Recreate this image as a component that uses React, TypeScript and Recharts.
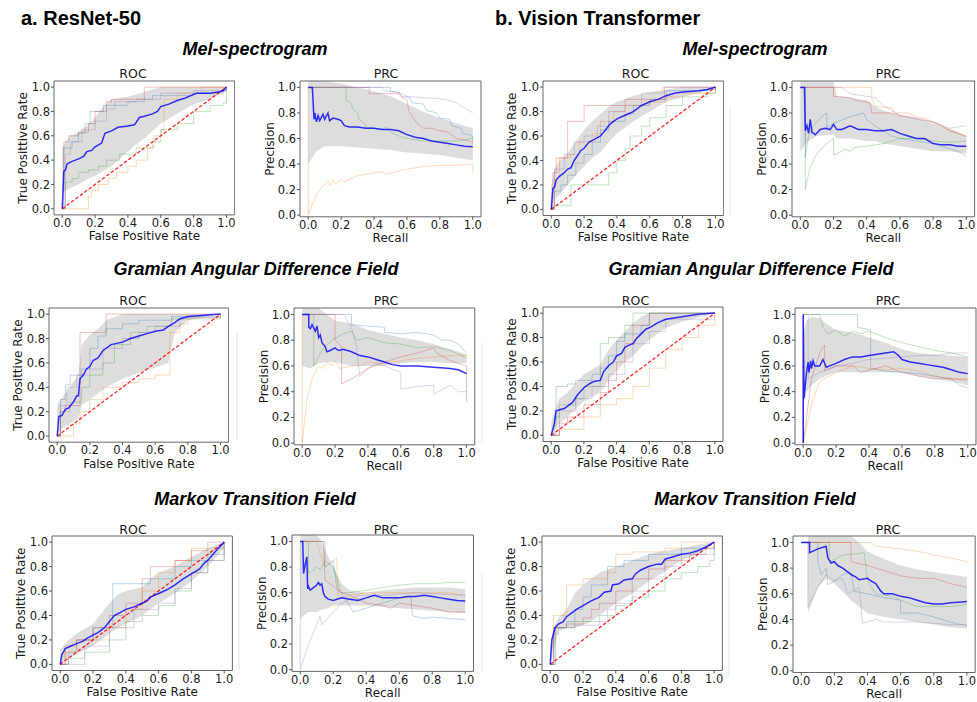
import React from 'react';
import { ComposedChart, Line, Area, XAxis, YAxis, ReferenceArea } from 'recharts';

type P = [number, number];
type B = [number, number, number];

// ---------------- shared ----------------
const axisTicks = [0, 0.2, 0.4, 0.6, 0.8, 1.0];
const foldColors = ['#1f77b4', '#ff7f0e', '#2ca02c', '#d62728', '#9467bd'];
const diagonal: P[] = [[0, 0], [1, 1]];
const sectionTitles = ['Mel-spectrogram', 'Gramian Angular Difference Field', 'Markov Transition Field'];
const modelTitles = ['a. ResNet-50', 'b. Vision Transformer'];

// ---------------- ResNet-50 / Mel-spectrogram ----------------
const resMelRocMean: P[] = [[0,0],[0.01,0.31],[0.02,0.32],[0.03,0.37],[0.06,0.39],[0.1,0.41],[0.13,0.43],[0.15,0.47],[0.18,0.48],[0.2,0.51],[0.24,0.54],[0.26,0.62],[0.3,0.64],[0.34,0.67],[0.4,0.68],[0.44,0.69],[0.47,0.75],[0.5,0.76],[0.55,0.78],[0.58,0.8],[0.6,0.84],[0.65,0.86],[0.7,0.89],[0.75,0.91],[0.8,0.94],[0.82,0.95],[0.9,0.95],[0.95,0.96],[0.98,0.97],[1,1]];
const resMelRocBand: B[] = [[0,0.13,0.5],[0.02,0.15,0.55],[0.05,0.17,0.6],[0.1,0.2,0.63],[0.15,0.24,0.68],[0.2,0.27,0.75],[0.25,0.31,0.84],[0.3,0.35,0.9],[0.35,0.41,0.91],[0.4,0.47,0.92],[0.45,0.53,0.94],[0.5,0.58,0.96],[0.55,0.64,0.98],[0.6,0.7,1.0],[0.7,0.78,1.0],[0.8,0.86,1.0],[0.9,0.9,1.0],[1,0.97,1.0]];
const resMelRocFolds: P[][] = [
  [[0,0],[0.01,0.5],[0.06,0.55],[0.1,0.62],[0.14,0.7],[0.17,0.8],[0.25,0.85],[0.4,0.88],[0.5,0.9],[0.55,0.93],[0.8,0.95],[0.98,0.97],[1,1]],
  [[0,0],[0.16,0.1],[0.18,0.15],[0.22,0.2],[0.28,0.25],[0.33,0.3],[0.4,0.35],[0.45,0.4],[0.52,0.5],[0.56,0.6],[0.6,0.65],[0.62,0.9],[0.7,0.95],[0.85,1.0],[1,1]],
  [[0,0],[0.02,0.22],[0.06,0.25],[0.1,0.3],[0.16,0.32],[0.22,0.35],[0.27,0.4],[0.35,0.45],[0.45,0.5],[0.55,0.55],[0.6,0.65],[0.7,0.7],[0.8,0.8],[0.9,0.85],[0.98,0.87],[1,1]],
  [[0,0],[0.01,0.55],[0.04,0.6],[0.1,0.63],[0.16,0.7],[0.2,0.8],[0.27,0.88],[0.3,0.9],[0.5,1.0],[1,1]],
  [[0,0],[0.02,0.45],[0.05,0.55],[0.12,0.65],[0.2,0.72],[0.27,0.82],[0.32,0.88],[0.45,0.9],[0.6,0.95],[0.8,0.97],[1,1]],
];
const resMelPrcMean: P[] = [[0,1],[0.025,1],[0.03,0.88],[0.035,0.75],[0.04,0.8],[0.05,0.73],[0.06,0.78],[0.07,0.74],[0.09,0.79],[0.1,0.75],[0.12,0.8],[0.13,0.74],[0.15,0.76],[0.18,0.75],[0.2,0.74],[0.22,0.7],[0.25,0.69],[0.3,0.69],[0.35,0.68],[0.4,0.68],[0.45,0.67],[0.5,0.67],[0.55,0.66],[0.6,0.63],[0.65,0.61],[0.7,0.6],[0.75,0.58],[0.8,0.57],[0.85,0.56],[0.9,0.55],[0.95,0.54],[1,0.535]];
const resMelPrcBand: B[] = [[0,0.4,1.05],[0.05,0.5,1.05],[0.1,0.54,1.05],[0.2,0.54,1.03],[0.3,0.53,1.0],[0.4,0.52,0.97],[0.5,0.51,0.93],[0.6,0.49,0.87],[0.7,0.48,0.81],[0.8,0.47,0.76],[0.9,0.45,0.72],[1,0.43,0.68]];
const resMelPrcFolds: P[][] = [
  [[0,1],[0.5,1],[0.5,0.97],[0.55,0.96],[0.57,0.93],[0.62,0.92],[0.63,0.88],[0.7,0.87],[0.72,0.82],[0.78,0.8],[0.8,0.76],[0.86,0.75],[0.87,0.7],[0.93,0.68],[0.94,0.64],[1,0.62],[1,0.58]],
  [[0,1],[0,0],[0.03,0.1],[0.06,0.18],[0.1,0.24],[0.12,0.27],[0.13,0.23],[0.15,0.27],[0.17,0.24],[0.2,0.28],[0.22,0.26],[0.3,0.31],[0.35,0.32],[0.45,0.34],[0.47,0.32],[0.6,0.36],[0.7,0.38],[0.8,0.39],[0.9,0.39],[1,0.4],[1,0.33]],
  [[0,1],[0.23,1],[0.23,0.9],[0.26,0.88],[0.27,0.83],[0.3,0.8],[0.31,0.75],[0.34,0.72],[0.35,0.69],[0.4,0.68],[0.45,0.67],[0.47,0.69],[0.5,0.65],[0.55,0.62],[0.6,0.6],[0.7,0.58],[0.8,0.58],[0.9,0.58],[1,0.6]],
  [[0,1],[0.37,1],[0.37,0.95],[0.55,0.95],[0.57,0.92],[0.6,0.9],[0.61,0.82],[0.64,0.76],[0.66,0.72],[0.7,0.68],[0.75,0.68],[0.8,0.66],[0.85,0.65],[0.88,0.62],[0.9,0.6],[0.95,0.59],[1,0.57],[1,0.55]],
  [[0,1],[0.45,1],[0.47,0.97],[0.55,0.96],[0.6,0.93],[0.7,0.92],[0.8,0.91],[0.85,0.9],[0.9,0.88],[0.95,0.84],[1,0.8]],
];

// ---------------- ViT / Mel-spectrogram ----------------
const vitMelRocMean: P[] = [[0,0],[0.01,0.17],[0.02,0.18],[0.03,0.24],[0.05,0.27],[0.08,0.3],[0.1,0.33],[0.12,0.34],[0.14,0.4],[0.16,0.44],[0.18,0.48],[0.2,0.5],[0.23,0.55],[0.26,0.57],[0.3,0.6],[0.33,0.65],[0.36,0.7],[0.4,0.74],[0.45,0.77],[0.5,0.8],[0.55,0.85],[0.6,0.88],[0.65,0.9],[0.7,0.93],[0.75,0.95],[0.8,0.96],[0.9,0.97],[0.95,0.98],[1,1]];
const vitMelRocBand: B[] = [[0,0.0,0.2],[0.02,0.08,0.33],[0.05,0.12,0.4],[0.1,0.2,0.46],[0.15,0.28,0.56],[0.2,0.35,0.65],[0.25,0.42,0.72],[0.3,0.47,0.78],[0.35,0.55,0.84],[0.4,0.62,0.88],[0.45,0.67,0.9],[0.5,0.72,0.93],[0.6,0.8,0.96],[0.7,0.88,0.98],[0.8,0.92,1.0],[0.9,0.95,1.0],[1,0.99,1.0]];
const vitMelRocFolds: P[][] = [
  [[0,0],[0.02,0.15],[0.06,0.2],[0.1,0.28],[0.15,0.38],[0.2,0.45],[0.25,0.55],[0.3,0.65],[0.35,0.72],[0.45,0.78],[0.5,0.85],[0.6,0.9],[0.7,0.97],[0.95,0.98],[1,1]],
  [[0,0],[0.02,0.3],[0.05,0.42],[0.12,0.45],[0.17,0.55],[0.25,0.62],[0.3,0.72],[0.38,0.8],[0.45,0.85],[0.6,0.88],[0.7,0.92],[0.8,0.95],[1,1]],
  [[0,0],[0.01,0.03],[0.12,0.2],[0.35,0.3],[0.4,0.4],[0.45,0.5],[0.48,0.6],[0.55,0.68],[0.6,0.75],[0.7,0.85],[0.8,0.92],[0.95,0.95],[1,1]],
  [[0,0],[0.01,0.3],[0.03,0.42],[0.1,0.72],[0.2,0.85],[0.45,0.9],[0.69,1.0],[1,1]],
  [[0,0],[0.02,0.33],[0.08,0.45],[0.14,0.55],[0.2,0.6],[0.28,0.68],[0.35,0.8],[0.45,0.85],[0.55,0.95],[0.68,1.0],[1,1]],
];
const vitMelPrcMean: P[] = [[0,1],[0.025,1],[0.028,0.8],[0.03,0.66],[0.04,0.7],[0.05,0.64],[0.06,0.75],[0.07,0.65],[0.09,0.63],[0.12,0.67],[0.15,0.68],[0.18,0.67],[0.2,0.71],[0.22,0.67],[0.25,0.67],[0.3,0.7],[0.35,0.67],[0.4,0.67],[0.45,0.66],[0.5,0.66],[0.55,0.67],[0.6,0.64],[0.65,0.62],[0.7,0.6],[0.75,0.6],[0.8,0.56],[0.85,0.55],[0.9,0.55],[0.95,0.54],[1,0.54]];
const vitMelPrcBand: B[] = [[0,0.5,1.05],[0.05,0.58,1.05],[0.1,0.62,1.05],[0.2,0.63,1.05],[0.22,0.6,0.93],[0.3,0.6,0.92],[0.4,0.58,0.9],[0.45,0.58,0.85],[0.5,0.56,0.82],[0.6,0.54,0.78],[0.7,0.52,0.76],[0.8,0.5,0.72],[0.9,0.5,0.68],[1,0.48,0.62]];
const vitMelPrcFolds: P[][] = [
  [[0,1],[0.03,1],[0.03,0.45],[0.05,0.62],[0.08,0.7],[0.12,0.76],[0.16,0.8],[0.16,0.68],[0.2,0.72],[0.3,0.77],[0.38,0.8],[0.4,0.75],[0.45,0.7],[0.5,0.66],[0.55,0.62],[0.6,0.6],[0.7,0.58],[0.8,0.56],[0.9,0.52],[0.95,0.5],[1,0.46]],
  [[0,1],[0.43,1],[0.43,0.92],[0.45,0.85],[0.55,0.84],[0.57,0.8],[0.65,0.8],[0.7,0.77],[0.75,0.76],[0.8,0.73],[0.85,0.7],[0.9,0.66],[0.95,0.64],[1,0.61]],
  [[0,1],[0.03,1],[0.03,0.2],[0.06,0.38],[0.1,0.48],[0.15,0.55],[0.2,0.6],[0.2,0.47],[0.25,0.5],[0.27,0.52],[0.3,0.5],[0.33,0.53],[0.4,0.54],[0.5,0.56],[0.6,0.6],[0.7,0.6],[0.8,0.58],[0.9,0.57],[1,0.58]],
  [[0,1],[0.2,1],[0.2,0.93],[0.3,0.92],[0.33,0.9],[0.42,0.88],[0.43,0.8],[0.55,0.8],[0.6,0.78],[0.7,0.76],[0.8,0.73],[0.85,0.7],[0.9,0.66],[1,0.62]],
  [[0,1],[0.25,1],[0.3,0.95],[0.45,0.92],[0.5,0.86],[0.6,0.78],[0.7,0.75],[0.8,0.73],[0.9,0.68],[1,0.7]],
];

// ---------------- ResNet-50 / GADF ----------------
const resGadfRocMean: P[] = [[0,0],[0.01,0.16],[0.03,0.17],[0.05,0.22],[0.07,0.23],[0.1,0.28],[0.12,0.33],[0.13,0.33],[0.14,0.47],[0.16,0.5],[0.18,0.55],[0.2,0.57],[0.22,0.62],[0.25,0.64],[0.28,0.7],[0.3,0.72],[0.33,0.75],[0.4,0.77],[0.45,0.8],[0.5,0.82],[0.55,0.84],[0.6,0.86],[0.65,0.87],[0.68,0.9],[0.72,0.93],[0.75,0.96],[0.8,0.98],[0.9,0.99],[1,1]];
const resGadfRocBand: B[] = [[0,0.0,0.25],[0.02,0.05,0.3],[0.05,0.08,0.35],[0.1,0.12,0.45],[0.13,0.15,0.5],[0.15,0.25,0.75],[0.2,0.3,0.83],[0.25,0.35,0.88],[0.3,0.4,0.95],[0.4,0.47,1.0],[0.5,0.52,1.0],[0.6,0.56,1.0],[0.68,0.6,1.0],[0.72,0.85,1.0],[0.8,0.95,1.0],[1,1,1]];
const resGadfRocFolds: P[][] = [
  [[0,0],[0.02,0.3],[0.05,0.42],[0.08,0.5],[0.15,0.55],[0.2,0.72],[0.25,0.82],[0.3,0.88],[0.4,0.92],[0.5,0.95],[0.7,0.98],[1,1]],
  [[0,0],[0.1,0.1],[0.14,0.2],[0.2,0.3],[0.28,0.4],[0.4,0.44],[0.5,0.47],[0.6,0.5],[0.69,0.85],[0.75,0.92],[0.8,0.97],[1,1]],
  [[0,0],[0.02,0.2],[0.08,0.28],[0.15,0.4],[0.2,0.5],[0.28,0.6],[0.35,0.75],[0.45,0.85],[0.55,0.9],[0.7,0.96],[1,1]],
  [[0,0],[0.02,0.2],[0.05,0.25],[0.14,0.85],[0.3,1.0],[1,1]],
  [[0,0],[0.02,0.25],[0.06,0.4],[0.12,0.5],[0.2,0.55],[0.28,0.72],[0.4,0.8],[0.5,0.85],[0.6,0.9],[0.75,0.97],[1,1]],
];
const resGadfPrcMean: P[] = [[0,1],[0.04,1],[0.04,0.9],[0.05,0.89],[0.06,0.92],[0.08,0.87],[0.09,0.91],[0.1,0.82],[0.11,0.84],[0.12,0.78],[0.14,0.75],[0.15,0.71],[0.17,0.72],[0.2,0.74],[0.22,0.72],[0.25,0.73],[0.3,0.71],[0.35,0.68],[0.4,0.67],[0.45,0.65],[0.5,0.63],[0.55,0.61],[0.6,0.6],[0.7,0.6],[0.8,0.59],[0.9,0.58],[0.95,0.57],[1,0.54]];
const resGadfPrcBand: B[] = [[0,0.6,1.05],[0.05,0.58,1.05],[0.1,0.62,1.05],[0.15,0.63,1.0],[0.2,0.63,0.95],[0.3,0.6,0.93],[0.4,0.6,0.88],[0.5,0.6,0.85],[0.6,0.62,0.82],[0.7,0.63,0.8],[0.8,0.63,0.77],[0.9,0.62,0.73],[1,0.62,0.69]];
const resGadfPrcFolds: P[][] = [
  [[0,1],[0.3,1],[0.3,0.92],[0.5,0.9],[0.5,0.86],[0.6,0.85],[0.7,0.86],[0.8,0.84],[0.85,0.8],[0.9,0.8],[0.95,0.77],[1,0.7]],
  [[0,1],[0,0],[0.03,0.35],[0.06,0.5],[0.1,0.6],[0.12,0.58],[0.15,0.63],[0.18,0.6],[0.2,0.64],[0.23,0.58],[0.3,0.6],[0.35,0.6],[0.4,0.63],[0.5,0.62],[0.6,0.64],[0.7,0.66],[0.8,0.67],[0.9,0.68],[1,0.68]],
  [[0,1],[0.07,1],[0.07,0.6],[0.12,0.72],[0.18,0.8],[0.25,0.85],[0.3,0.87],[0.33,0.8],[0.4,0.82],[0.45,0.8],[0.5,0.78],[0.6,0.77],[0.7,0.74],[0.8,0.75],[0.9,0.72],[1,0.66]],
  [[0,1],[0.2,1],[0.2,0.8],[0.24,0.75],[0.24,0.46],[0.3,0.5],[0.4,0.58],[0.5,0.63],[0.6,0.67],[0.7,0.7],[0.8,0.74],[0.82,0.7],[0.9,0.64],[1,0.6],[1,0.32]],
  [[0,1],[0.25,1],[0.3,0.9],[0.33,0.75],[0.35,0.52],[0.4,0.58],[0.45,0.62],[0.5,0.6],[0.6,0.55],[0.6,0.42],[0.7,0.44],[0.8,0.45],[0.8,0.38],[0.9,0.45],[0.95,0.4],[1,0.4]],
];

// ---------------- ViT / GADF ----------------
const vitGadfRocMean: P[] = [[0,0],[0.01,0.05],[0.02,0.1],[0.03,0.2],[0.05,0.21],[0.08,0.22],[0.1,0.24],[0.13,0.27],[0.16,0.33],[0.2,0.39],[0.23,0.42],[0.26,0.44],[0.3,0.45],[0.32,0.52],[0.35,0.57],[0.38,0.6],[0.4,0.65],[0.43,0.67],[0.45,0.72],[0.48,0.74],[0.5,0.75],[0.52,0.79],[0.55,0.83],[0.58,0.87],[0.6,0.88],[0.65,0.92],[0.7,0.95],[0.8,0.97],[0.9,0.99],[1,1]];
const vitGadfRocBand: B[] = [[0,0,0.1],[0.02,0.05,0.2],[0.05,0.1,0.3],[0.1,0.15,0.35],[0.2,0.28,0.5],[0.3,0.35,0.58],[0.35,0.45,0.7],[0.4,0.53,0.78],[0.45,0.6,0.85],[0.5,0.65,0.92],[0.55,0.72,0.97],[0.6,0.78,1.0],[0.7,0.88,1.0],[0.8,0.93,1.0],[1,1,1]];
const vitGadfRocFolds: P[][] = [
  [[0,0],[0.03,0.4],[0.1,0.42],[0.15,0.45],[0.25,0.5],[0.3,0.55],[0.35,0.65],[0.4,0.77],[0.45,0.83],[0.55,0.9],[0.6,1.0],[1,1]],
  [[0,0],[0.05,0.05],[0.2,0.15],[0.3,0.25],[0.4,0.3],[0.5,0.4],[0.6,0.55],[0.7,0.7],[0.8,0.8],[0.9,0.9],[1,1]],
  [[0,0],[0.02,0.15],[0.05,0.25],[0.15,0.3],[0.2,0.4],[0.3,0.75],[0.35,0.8],[0.45,0.9],[0.5,1.0],[1,1]],
  [[0,0],[0.05,0.1],[0.1,0.15],[0.2,0.25],[0.3,0.35],[0.35,0.45],[0.4,0.6],[0.45,0.75],[0.5,0.9],[0.6,1.0],[1,1]],
  [[0,0],[0.05,0.2],[0.15,0.3],[0.25,0.4],[0.35,0.5],[0.45,0.6],[0.5,0.75],[0.6,0.85],[0.7,0.95],[1,1]],
];
const vitGadfPrcMean: P[] = [[0,0],[0,1],[0.005,0.35],[0.02,0.55],[0.03,0.63],[0.035,0.55],[0.045,0.64],[0.05,0.58],[0.06,0.64],[0.07,0.6],[0.1,0.6],[0.12,0.65],[0.14,0.59],[0.16,0.6],[0.2,0.62],[0.25,0.65],[0.3,0.67],[0.35,0.67],[0.4,0.68],[0.45,0.69],[0.5,0.7],[0.55,0.71],[0.58,0.68],[0.6,0.65],[0.65,0.63],[0.7,0.62],[0.75,0.61],[0.8,0.6],[0.85,0.59],[0.9,0.57],[0.95,0.55],[1,0.54]];
const vitGadfPrcBand: B[] = [[0,0.3,0.85],[0.02,0.4,0.95],[0.05,0.45,0.98],[0.1,0.5,0.97],[0.15,0.53,0.92],[0.2,0.55,0.88],[0.3,0.55,0.86],[0.4,0.55,0.82],[0.5,0.55,0.78],[0.6,0.55,0.73],[0.7,0.52,0.7],[0.8,0.5,0.69],[0.9,0.48,0.68],[1,0.45,0.67]];
const vitGadfPrcFolds: P[][] = [
  [[0,1],[0.33,1],[0.33,0.9],[0.41,0.88],[0.41,0.58],[0.5,0.56],[0.6,0.55],[0.7,0.54],[0.8,0.52],[0.9,0.5],[0.95,0.45],[1,0.43]],
  [[0,1],[0,0],[0.05,0.3],[0.1,0.48],[0.2,0.55],[0.3,0.6],[0.4,0.58],[0.5,0.57],[0.6,0.58],[0.7,0.56],[0.8,0.52],[0.9,0.5],[1,0.5]],
  [[0,1],[0.1,1],[0.12,0.9],[0.15,0.85],[0.2,0.88],[0.25,0.83],[0.3,0.87],[0.35,0.85],[0.4,0.87],[0.5,0.82],[0.6,0.78],[0.7,0.75],[0.8,0.72],[0.9,0.7],[1,0.67]],
  [[0,1],[0,0],[0.05,0.5],[0.1,0.7],[0.13,0.76],[0.13,0.56],[0.2,0.6],[0.3,0.6],[0.35,0.55],[0.5,0.6],[0.6,0.55],[0.7,0.52],[0.8,0.5],[0.9,0.5],[1,0.49]],
  [[0,1],[0.03,1],[0.03,0.5],[0.1,0.55],[0.2,0.6],[0.3,0.62],[0.4,0.65],[0.5,0.66],[0.6,0.67],[0.7,0.68],[0.8,0.68],[0.9,0.7],[1,0.7]],
];

// ---------------- ResNet-50 / MTF ----------------
const resMtfRocMean: P[] = [[0,0],[0.01,0.08],[0.02,0.1],[0.03,0.13],[0.05,0.14],[0.08,0.16],[0.12,0.18],[0.14,0.19],[0.16,0.21],[0.2,0.24],[0.23,0.26],[0.27,0.3],[0.3,0.35],[0.33,0.4],[0.36,0.42],[0.4,0.45],[0.45,0.47],[0.5,0.5],[0.53,0.52],[0.55,0.55],[0.6,0.58],[0.65,0.61],[0.7,0.65],[0.75,0.7],[0.8,0.74],[0.85,0.78],[0.88,0.83],[0.9,0.85],[0.95,0.93],[1,1]];
const resMtfRocBand: B[] = [[0,0,0.12],[0.05,0.05,0.2],[0.1,0.08,0.25],[0.2,0.15,0.33],[0.3,0.25,0.5],[0.35,0.3,0.57],[0.4,0.33,0.6],[0.5,0.4,0.63],[0.55,0.45,0.7],[0.6,0.5,0.75],[0.7,0.58,0.8],[0.8,0.68,0.88],[0.9,0.8,0.95],[1,0.95,1]];
const resMtfRocFolds: P[][] = [
  [[0,0],[0.05,0.1],[0.1,0.2],[0.2,0.3],[0.32,0.66],[0.55,0.7],[0.7,0.8],[0.8,0.85],[0.9,0.9],[1,1]],
  [[0,0],[0.03,0.1],[0.1,0.2],[0.3,0.3],[0.4,0.45],[0.5,0.6],[0.6,0.75],[0.7,0.85],[0.8,0.95],[1,1]],
  [[0,0],[0.05,0.05],[0.15,0.1],[0.3,0.2],[0.4,0.35],[0.5,0.4],[0.6,0.48],[0.7,0.6],[0.8,0.75],[0.9,0.85],[1,1]],
  [[0,0],[0.03,0.15],[0.1,0.2],[0.2,0.3],[0.3,0.4],[0.4,0.5],[0.5,0.7],[0.55,0.8],[0.7,0.85],[0.8,0.93],[0.9,1.0],[1,1]],
  [[0,0],[0.15,0.15],[0.3,0.3],[0.45,0.45],[0.6,0.5],[0.7,0.62],[0.8,0.75],[0.9,0.85],[1,1]],
];
const resMtfPrcMean: P[] = [[0,1],[0.015,1],[0.02,0.75],[0.03,0.82],[0.04,0.88],[0.045,0.63],[0.05,0.65],[0.06,0.62],[0.08,0.64],[0.1,0.66],[0.11,0.68],[0.12,0.66],[0.13,0.67],[0.14,0.6],[0.15,0.57],[0.17,0.55],[0.2,0.54],[0.25,0.56],[0.3,0.55],[0.35,0.54],[0.4,0.56],[0.45,0.58],[0.5,0.56],[0.55,0.56],[0.6,0.56],[0.65,0.57],[0.7,0.57],[0.75,0.58],[0.8,0.57],[0.85,0.56],[0.9,0.55],[0.95,0.54],[1,0.535]];
const resMtfPrcBand: B[] = [[0,0.4,1.05],[0.05,0.45,1.05],[0.1,0.45,1.05],[0.13,0.47,1.0],[0.17,0.48,0.88],[0.2,0.5,0.8],[0.25,0.5,0.67],[0.3,0.5,0.62],[0.4,0.5,0.6],[0.5,0.49,0.62],[0.6,0.48,0.63],[0.7,0.47,0.64],[0.8,0.46,0.64],[0.9,0.45,0.64],[1,0.44,0.63]];
const resMtfPrcFolds: P[][] = [
  [[0,1],[0.15,1],[0.15,0.8],[0.2,0.85],[0.22,0.65],[0.3,0.5],[0.32,0.45],[0.4,0.48],[0.5,0.52],[0.6,0.56],[0.67,0.57],[0.68,0.42],[0.75,0.4],[0.8,0.41],[0.9,0.4],[1,0.39]],
  [[0,1],[0.1,1],[0.12,0.9],[0.15,0.8],[0.22,0.87],[0.23,0.55],[0.3,0.58],[0.4,0.6],[0.5,0.6],[0.6,0.6],[0.7,0.6],[0.8,0.6],[0.9,0.6],[1,0.58]],
  [[0,1],[0.05,1],[0.05,0.75],[0.1,0.8],[0.12,0.78],[0.15,0.85],[0.2,0.8],[0.25,0.6],[0.3,0.6],[0.4,0.62],[0.5,0.64],[0.6,0.66],[0.7,0.67],[0.8,0.67],[0.9,0.68],[1,0.68]],
  [[0,1],[0.14,1],[0.15,0.7],[0.2,0.65],[0.25,0.6],[0.3,0.58],[0.35,0.55],[0.4,0.52],[0.5,0.5],[0.55,0.48],[0.6,0.52],[0.7,0.5],[0.8,0.48],[0.9,0.45],[1,0.45]],
  [[0,1],[0,0],[0.05,0.2],[0.1,0.35],[0.12,0.42],[0.13,0.35],[0.2,0.45],[0.25,0.52],[0.3,0.55],[0.35,0.58],[0.5,0.58],[0.7,0.6],[1,0.58]],
];

// ---------------- ViT / MTF ----------------
const vitMtfRocMean: P[] = [[0,0],[0.01,0.2],[0.02,0.25],[0.03,0.3],[0.05,0.33],[0.08,0.35],[0.1,0.39],[0.13,0.42],[0.16,0.45],[0.2,0.48],[0.25,0.52],[0.3,0.55],[0.33,0.59],[0.37,0.6],[0.38,0.65],[0.42,0.66],[0.45,0.69],[0.5,0.7],[0.52,0.74],[0.55,0.77],[0.6,0.8],[0.65,0.82],[0.68,0.82],[0.7,0.86],[0.75,0.88],[0.8,0.9],[0.85,0.91],[0.9,0.93],[0.95,0.96],[1,1]];
const vitMtfRocBand: B[] = [[0,0,0.15],[0.02,0.12,0.3],[0.05,0.27,0.38],[0.1,0.3,0.45],[0.15,0.3,0.58],[0.2,0.32,0.65],[0.25,0.35,0.7],[0.3,0.4,0.75],[0.4,0.5,0.8],[0.5,0.58,0.85],[0.6,0.68,0.9],[0.7,0.76,0.93],[0.8,0.85,0.95],[0.9,0.9,0.98],[1,1,1]];
const vitMtfRocFolds: P[][] = [
  [[0,0],[0.03,0.3],[0.1,0.35],[0.15,0.45],[0.2,0.55],[0.25,0.65],[0.35,0.8],[0.45,0.85],[0.6,0.9],[0.8,0.95],[1,1]],
  [[0,0],[0.02,0.4],[0.08,0.4],[0.1,0.65],[0.2,0.7],[0.35,0.75],[0.4,0.9],[0.5,0.92],[0.7,0.95],[0.8,1.0],[1,1]],
  [[0,0],[0.03,0.3],[0.15,0.35],[0.3,0.4],[0.4,0.48],[0.5,0.55],[0.6,0.6],[0.7,0.7],[0.8,0.75],[0.9,0.8],[0.97,0.85],[1,1]],
  [[0,0],[0.02,0.3],[0.1,0.33],[0.2,0.38],[0.25,0.45],[0.3,0.5],[0.4,0.6],[0.5,0.7],[0.6,0.78],[0.7,0.85],[0.85,0.9],[0.95,0.95],[1,1]],
  [[0,0],[0.02,0.25],[0.05,0.3],[0.15,0.32],[0.3,0.35],[0.35,0.45],[0.4,0.5],[0.5,0.6],[0.6,0.7],[0.7,0.8],[0.8,0.9],[1,1]],
];
const vitMtfPrcMean: P[] = [[0,1],[0.05,1],[0.05,0.92],[0.1,0.95],[0.15,0.97],[0.16,0.88],[0.18,0.84],[0.2,0.85],[0.22,0.82],[0.25,0.8],[0.28,0.77],[0.3,0.75],[0.33,0.73],[0.35,0.71],[0.4,0.72],[0.42,0.7],[0.45,0.68],[0.48,0.62],[0.5,0.6],[0.55,0.6],[0.6,0.58],[0.65,0.57],[0.7,0.55],[0.75,0.53],[0.8,0.52],[0.85,0.52],[0.9,0.53],[0.95,0.535],[1,0.54]];
const vitMtfPrcBand: B[] = [[0.04,0.45,1.05],[0.1,0.65,1.05],[0.15,0.72,1.05],[0.2,0.68,1.05],[0.3,0.55,1.05],[0.35,0.5,1.0],[0.4,0.45,0.93],[0.5,0.42,0.87],[0.6,0.4,0.82],[0.7,0.38,0.79],[0.8,0.36,0.77],[0.9,0.34,0.75],[1,0.33,0.73]];
const vitMtfPrcFolds: P[][] = [
  [[0,1],[0.1,1],[0.1,0.85],[0.12,0.75],[0.15,0.8],[0.16,0.67],[0.2,0.7],[0.25,0.75],[0.3,0.77],[0.32,0.62],[0.4,0.6],[0.5,0.57],[0.6,0.55],[0.6,0.45],[0.7,0.45],[0.8,0.42],[0.9,0.38],[1,0.35]],
  [[0,1],[0.42,1],[0.45,0.97],[0.6,0.95],[0.7,0.93],[0.75,0.92],[0.8,0.9],[0.9,0.88],[1,0.85]],
  [[0,1],[0.17,1],[0.17,0.85],[0.25,0.9],[0.38,0.92],[0.4,0.7],[0.45,0.6],[0.55,0.58],[0.6,0.55],[0.7,0.5],[0.8,0.5],[0.9,0.5],[1,0.52]],
  [[0,1],[0.3,1],[0.3,0.85],[0.4,0.82],[0.5,0.78],[0.6,0.74],[0.7,0.72],[0.8,0.72],[0.9,0.68],[1,0.65]],
  [[0,1],[0.04,1],[0.04,0.5],[0.1,0.65],[0.15,0.75],[0.2,0.7],[0.25,0.72],[0.28,0.6],[0.35,0.65],[0.37,0.37],[0.45,0.4],[0.5,0.38],[0.6,0.38],[0.7,0.38],[0.8,0.37],[0.9,0.36],[1,0.36]],
];

// ---------------- layout (pixel frames of each subplot) ----------------
type Kind = 'roc' | 'prc';
interface Spec { kind: Kind; mean: P[]; band: B[]; folds: P[][]; L: number; T: number; R: number; Bm: number; tx: number; ty: number; }

const specs: Spec[] = [
  { kind: 'roc', mean: resMelRocMean, band: resMelRocBand, folds: resMelRocFolds, L: 53.5, T: 81.2, R: 234.2, Bm: 215.1, tx: 133, ty: 77.5 },
  { kind: 'prc', mean: resMelPrcMean, band: resMelPrcBand, folds: resMelPrcFolds, L: 299.5, T: 80.9, R: 480.5, Bm: 216.7, tx: 386, ty: 77.5 },
  { kind: 'roc', mean: vitMelRocMean, band: vitMelRocBand, folds: vitMelRocFolds, L: 542.5, T: 80.6, R: 723.2, Bm: 215.1, tx: 635.5, ty: 77.5 },
  { kind: 'prc', mean: vitMelPrcMean, band: vitMelPrcBand, folds: vitMelPrcFolds, L: 792.4, T: 80.9, R: 975, Bm: 216.7, tx: 888, ty: 77.5 },
  { kind: 'roc', mean: resGadfRocMean, band: resGadfRocBand, folds: resGadfRocFolds, L: 48.5, T: 307.9, R: 228.2, Bm: 442.1, tx: 133, ty: 305 },
  { kind: 'prc', mean: resGadfPrcMean, band: resGadfPrcBand, folds: resGadfPrcFolds, L: 294.1, T: 307.6, R: 474.9, Bm: 444.4, tx: 386, ty: 305 },
  { kind: 'roc', mean: vitGadfRocMean, band: vitGadfRocBand, folds: vitGadfRocFolds, L: 542.5, T: 306.6, R: 722.5, Bm: 441.1, tx: 635.5, ty: 305 },
  { kind: 'prc', mean: vitGadfPrcMean, band: vitGadfPrcBand, folds: vitGadfPrcFolds, L: 794.5, T: 307.6, R: 975.5, Bm: 444.4, tx: 888, ty: 305 },
  { kind: 'roc', mean: resMtfRocMean, band: resMtfRocBand, folds: resMtfRocFolds, L: 51.8, T: 535.6, R: 232.2, Bm: 670.1, tx: 133, ty: 533.5 },
  { kind: 'prc', mean: resMtfPrcMean, band: resMtfPrcBand, folds: resMtfPrcFolds, L: 291.8, T: 535.3, R: 473.3, Bm: 671.7, tx: 386, ty: 533.5 },
  { kind: 'roc', mean: vitMtfRocMean, band: vitMtfRocBand, folds: vitMtfRocFolds, L: 541.8, T: 535.6, R: 722.2, Bm: 670.1, tx: 635.5, ty: 533.5 },
  { kind: 'prc', mean: vitMtfPrcMean, band: vitMtfPrcBand, folds: vitMtfPrcFolds, L: 793.4, T: 535.9, R: 975.6, Bm: 672.4, tx: 888, ty: 533.5 },
];

const sectionPos = [
  { y: 55, xa: 255, xb: 755 },
  { y: 275, xa: 256, xb: 751 },
  { y: 505, xa: 255, xb: 755 },
];

const ghostLines = [[237, 333, 440], [482, 343, 442], [239, 560, 670], [482, 573, 672], [729, 577, 677], [730, 107, 215]];

const toXY = (arr: P[]) => arr.map(([x, y]) => ({ x, y }));
const fmt = (v: number) => v.toFixed(1);

function Panel({ s }: { s: Spec }) {
  const isRoc = s.kind === 'roc';
  const yW = isRoc ? 63 : 60;
  const xH = 31;
  const pad = 1;
  const plotW = s.R - s.L;
  const plotH = s.Bm - s.T;
  const width = yW + plotW + pad;
  const height = pad + plotH + xH;
  const yDomain: [number, number] = isRoc ? [-0.05, 1.05] : [-0.013, 1.05];
  const bandData = s.band.map(([x, lo, hi]) => ({ x, r: [lo, hi] }));
  return (
    <div style={{ position: 'absolute', left: s.L - yW, top: s.T - pad }}>
      <ComposedChart width={width} height={height} data={bandData} margin={{ top: pad, right: pad, left: 0, bottom: 0 }}>
        <XAxis
          type="number" dataKey="x" domain={[-0.05, 1.05]} ticks={axisTicks} tickFormatter={fmt}
          allowDataOverflow interval={0} tickSize={3} tickMargin={1} height={xH}
          axisLine={false} tickLine={{ stroke: '#555' }} tick={{ fontSize: 11.5, fill: '#1a1a1a' }}
          label={{ value: isRoc ? 'False Positive Rate' : 'Recall', position: 'insideBottom', offset: 5.5, fontSize: 12, fill: '#1a1a1a' }}
        />
        <YAxis
          type="number" domain={yDomain} ticks={axisTicks} tickFormatter={fmt}
          allowDataOverflow interval={0} tickSize={3} tickMargin={1} width={yW}
          axisLine={false} tickLine={{ stroke: '#555' }} tick={{ fontSize: 11.5, fill: '#1a1a1a' }}
          label={{ value: isRoc ? 'True Posittive Rate' : 'Precision', position: 'center', angle: -90, fontSize: 12, fill: '#1a1a1a' }}
        />
        {s.folds.map((f, i) => (
          <Line key={'f' + i} data={toXY(f)} dataKey="y" type={isRoc ? 'stepAfter' : 'linear'}
            stroke={foldColors[i]} strokeOpacity={0.3} strokeWidth={1} dot={false} activeDot={false} isAnimationActive={false} />
        ))}
        <Area dataKey="r" type="linear" stroke="none" fill="#808080" fillOpacity={0.27} dot={false} activeDot={false} isAnimationActive={false} />
        {isRoc && (
          <Line data={toXY(diagonal)} dataKey="y" type="linear" stroke="#ff0000" strokeOpacity={0.85} strokeWidth={1.3}
            strokeDasharray="3.5 2" dot={false} activeDot={false} isAnimationActive={false} />
        )}
        <Line data={toXY(s.mean)} dataKey="y" type="linear" stroke="#0000ff" strokeOpacity={0.8} strokeWidth={1.5}
          dot={false} activeDot={false} isAnimationActive={false} />
        <ReferenceArea x1={-0.05} x2={1.05} y1={yDomain[0]} y2={yDomain[1]} fill="none" stroke="#666" strokeWidth={1} ifOverflow="visible" />
      </ComposedChart>
    </div>
  );
}

export default function App() {
  return (
    <div style={{ position: 'absolute', left: 0, top: 0, width: 977, height: 702, overflow: 'hidden', background: '#fff', fontFamily: '"DejaVu Sans", sans-serif' }}>
      <svg width={977} height={702} style={{ position: 'absolute', left: 0, top: 0 }}>
        <text x={21} y={25} fontFamily='"Liberation Sans", Arial, sans-serif' fontWeight="bold" fontSize={20} fill="#000">{modelTitles[0]}</text>
        <text x={495} y={25} fontFamily='"Liberation Sans", Arial, sans-serif' fontWeight="bold" fontSize={20} fill="#000">{modelTitles[1]}</text>
        {sectionPos.map((p, i) => (
          <React.Fragment key={'sec' + i}>
            <text x={p.xa} y={p.y} textAnchor="middle" fontFamily='"Liberation Sans", Arial, sans-serif' fontWeight="bold" fontStyle="italic" fontSize={18} fill="#000">{sectionTitles[i]}</text>
            <text x={p.xb} y={p.y} textAnchor="middle" fontFamily='"Liberation Sans", Arial, sans-serif' fontWeight="bold" fontStyle="italic" fontSize={18} fill="#000">{sectionTitles[i]}</text>
          </React.Fragment>
        ))}
        {specs.map((s, i) => (
          <text key={'t' + i} x={s.tx} y={s.ty} textAnchor="middle" fontFamily='"DejaVu Sans", sans-serif' fontSize={12.5} fill="#1a1a1a">{s.kind === 'roc' ? 'ROC' : 'PRC'}</text>
        ))}
        {ghostLines.map(([x, y1, y2], i) => (
          <line key={'g' + i} x1={x} x2={x} y1={y1} y2={y2} stroke="#e2e2e2" strokeWidth={1} />
        ))}
      </svg>
      {specs.map((s, i) => <Panel key={i} s={s} />)}
    </div>
  );
}
